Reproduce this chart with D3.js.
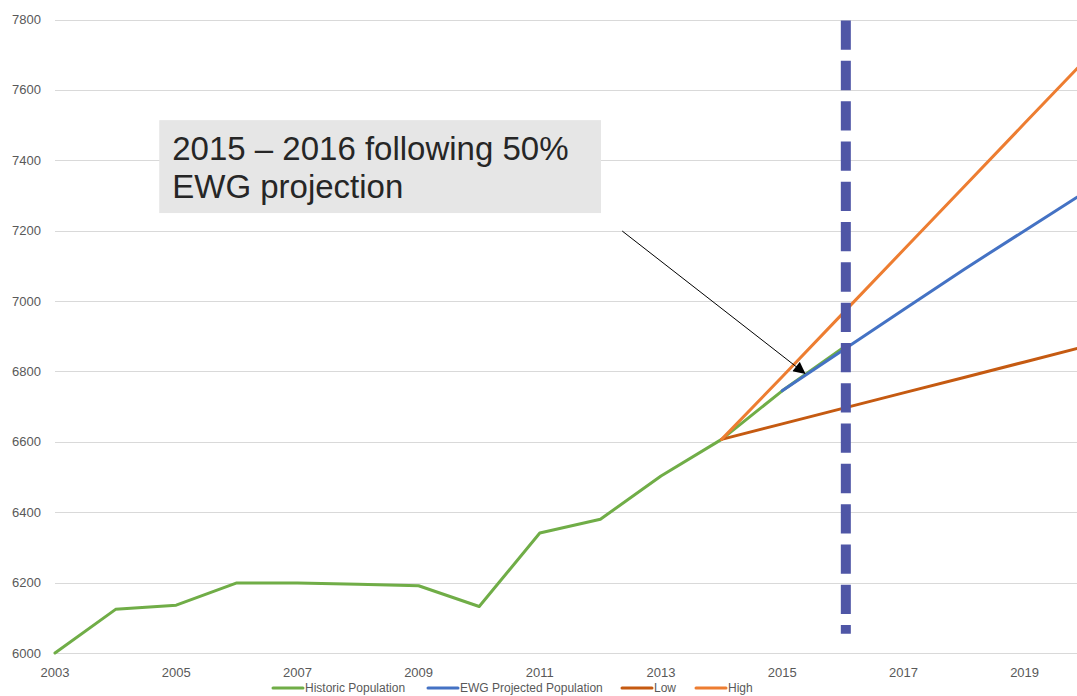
<!DOCTYPE html>
<html>
<head>
<meta charset="utf-8">
<script src="https://cdn.jsdelivr.net/npm/d3@7"></script>
<style>
  body { margin: 0; background: #fff; }
  svg { display: block; font-family: "Liberation Sans", Arial, sans-serif; }
</style>
</head>
<body>
<svg id="chart"></svg>
<script>
// Data
const historicYears = [2003, 2004, 2005, 2006, 2007, 2008, 2009, 2010, 2011, 2012, 2013, 2014, 2015, 2016];
const historicValues = [6000, 6124, 6136, 6199, 6199, 6195, 6191, 6132, 6341, 6380, 6503, 6607, 6745, 6867];

const ewgYears = [2015, 2016, 2017, 2018, 2019, 2020];
const ewgValues = [6745, 6860, 6975, 7090, 7200, 7310];

const lowYears = [2014, 2015, 2016, 2017, 2018, 2019, 2020];
const lowValues = [6607, 6651, 6695, 6739, 6783, 6827, 6871];

const highYears = [2014, 2015, 2016, 2017, 2018, 2019, 2020];
const highValues = [6607, 6785, 6965, 7145, 7325, 7505, 7685];

const seriesNames = ["Historic Population", "EWG Projected Population", "Low", "High"];
const seriesColors = ["#70ad47", "#4472c4", "#c55a11", "#ed7d31"];

const yTicks = [6000, 6200, 6400, 6600, 6800, 7000, 7200, 7400, 7600, 7800];
const xTicks = [2003, 2005, 2007, 2009, 2011, 2013, 2015, 2017, 2019];

// Marker line (2016) and annotation, in data units
const markerYear = 2016.05;
const markerRange = [7797, 6055];
const noteText = ["2015 \u2013 2016 following 50%", "EWG projection"];
const noteBox = { x0: 2004.72, x1: 2012.01, y0: 7514, y1: 7250 };
const arrowFrom = [2012.36, 7199];
const arrowTo = [2015.37, 6795];

const width = 1077, height = 696;

const svg = d3.select("#chart")
    .attr("width", width)
    .attr("height", height);

const x = d3.scaleLinear().domain([2003, 2020]).range([55, 55 + 17 * 60.6]);
const y = d3.scaleLinear().domain([6000, 7800]).range([653, 19.5]);

// Gridlines
svg.selectAll(".grid")
    .data(yTicks)
    .enter().append("line")
    .attr("class", "grid")
    .attr("x1", x(2003))
    .attr("x2", width)
    .attr("y1", d => Math.round(y(d)) + 0.5)
    .attr("y2", d => Math.round(y(d)) + 0.5)
    .attr("stroke", "#d9d9d9")
    .attr("stroke-width", 1);

// Y labels
svg.selectAll(".ylab")
    .data(yTicks)
    .enter().append("text")
    .attr("class", "ylab")
    .attr("x", 41)
    .attr("y", d => y(d))
    .attr("dy", "0.35em")
    .attr("text-anchor", "end")
    .attr("font-size", 13)
    .attr("fill", "#595959")
    .text(d => d);

// X labels
svg.selectAll(".xlab")
    .data(xTicks)
    .enter().append("text")
    .attr("class", "xlab")
    .attr("x", d => x(d))
    .attr("y", 672)
    .attr("dy", "0.35em")
    .attr("text-anchor", "middle")
    .attr("font-size", 13)
    .attr("fill", "#595959")
    .text(d => d);

// Series lines
const line = d3.line().x(d => x(d[0])).y(d => y(d[1]));
const series = [
    d3.zip(historicYears, historicValues),
    d3.zip(ewgYears, ewgValues),
    d3.zip(lowYears, lowValues),
    d3.zip(highYears, highValues)
];

svg.selectAll(".series")
    .data(series)
    .enter().append("path")
    .attr("class", "series")
    .attr("d", line)
    .attr("fill", "none")
    .attr("stroke", (d, i) => seriesColors[i])
    .attr("stroke-width", 3)
    .attr("stroke-linejoin", "round")
    .attr("stroke-linecap", "round");

// Dashed vertical marker
svg.append("line")
    .attr("x1", x(markerYear))
    .attr("x2", x(markerYear))
    .attr("y1", y(markerRange[0]))
    .attr("y2", y(markerRange[1]))
    .attr("stroke", "#4f56a6")
    .attr("stroke-width", 10)
    .attr("stroke-dasharray", "29.3,11");

// Annotation box
svg.append("rect")
    .attr("x", x(noteBox.x0))
    .attr("y", y(noteBox.y0))
    .attr("width", x(noteBox.x1) - x(noteBox.x0))
    .attr("height", y(noteBox.y1) - y(noteBox.y0))
    .attr("fill", "#e6e6e6");

svg.selectAll(".note")
    .data(noteText)
    .enter().append("text")
    .attr("class", "note")
    .attr("x", x(noteBox.x0) + 13)
    .attr("y", (d, i) => y(noteBox.y0) + 40 + i * 38)
    .attr("font-size", 33)
    .attr("fill", "#262626")
    .text(d => d);

// Arrow
svg.append("defs").append("marker")
    .attr("id", "arrowhead")
    .attr("viewBox", "0 0 10 10")
    .attr("refX", 9)
    .attr("refY", 5)
    .attr("markerWidth", 14)
    .attr("markerHeight", 12)
    .attr("markerUnits", "userSpaceOnUse")
    .attr("orient", "auto")
    .append("path")
    .attr("d", "M0,0 L10,5 L0,10 Z")
    .attr("fill", "#000");

svg.append("line")
    .attr("x1", x(arrowFrom[0]))
    .attr("y1", y(arrowFrom[1]))
    .attr("x2", x(arrowTo[0]))
    .attr("y2", y(arrowTo[1]))
    .attr("stroke", "#000")
    .attr("stroke-width", 1)
    .attr("marker-end", "url(#arrowhead)");

// Legend
const legendX = [273, 428, 622, 696];
const legend = svg.selectAll(".legend")
    .data(seriesNames)
    .enter().append("g")
    .attr("class", "legend")
    .attr("transform", (d, i) => `translate(${legendX[i]},688)`);

legend.append("line")
    .attr("x1", 0)
    .attr("x2", 30)
    .attr("stroke", (d, i) => seriesColors[i])
    .attr("stroke-width", 3)
    .attr("stroke-linecap", "round");

legend.append("text")
    .attr("x", 32)
    .attr("dy", "0.35em")
    .attr("font-size", 12)
    .attr("fill", "#595959")
    .text(d => d);
</script>
</body>
</html>
